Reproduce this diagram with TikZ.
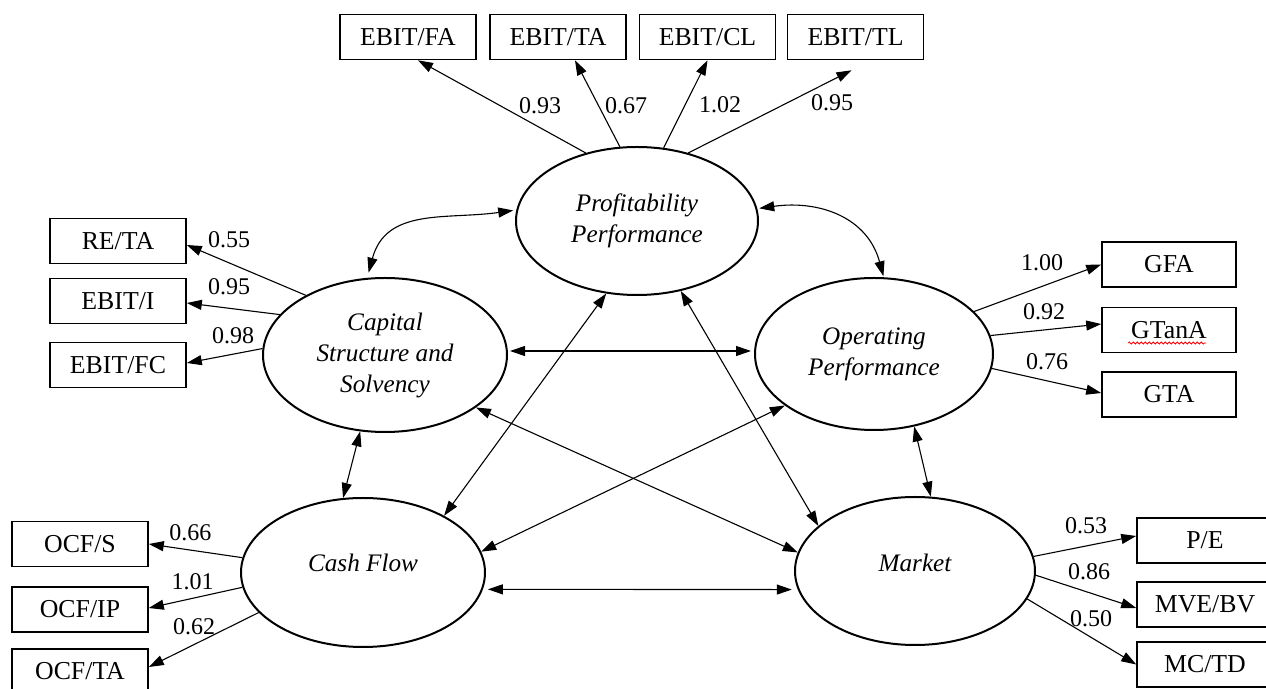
\documentclass[tikz,border=0pt]{standalone}
\usepackage{fontspec}
\setmainfont{Liberation Serif}
\usetikzlibrary{arrows.meta,shapes.geometric,decorations.pathmorphing,calc}
\begin{document}
\begin{tikzpicture}[x=0.5pt,y=-0.5pt,
  box/.style={draw,line width=0.8pt,minimum width=68pt,minimum height=22.5pt,inner sep=0pt,font=\fontsize{12.9}{15}\selectfont},
  lat/.style={draw,ellipse,line width=1pt,inner sep=0pt,align=center,font=\fontsize{12.6}{15.5}\selectfont\itshape},
  lattext/.style={inner sep=0pt,font=\fontsize{12.6}{15.5}\selectfont\itshape},
  load/.style={-{Triangle[length=7.5pt,width=5pt]},line width=0.55pt},
  cor/.style={{Triangle[length=7.5pt,width=5pt]}-{Triangle[length=7.5pt,width=5pt]},line width=0.55pt},
  num/.style={font=\fontsize{12}{14}\selectfont,inner sep=0pt}]
\fill[white] (0,0) rectangle (1266,689);
\useasboundingbox (0,0) rectangle (1266,689);
\clip (0,0) rectangle (1266,689);

% latent variables
\node[lat,minimum width=121pt,minimum height=74pt] (pp) at (637,221) {Profitability\\Performance};
\node[lat,minimum width=122pt,minimum height=77pt] (cap) at (385,355) {Capital\\Structure and\\Solvency};
\node[lat,minimum width=119pt,minimum height=76pt] (op) at (874,354) {Operating\\Performance};
\node[lat,minimum width=122pt,minimum height=74.5pt] (cf) at (363,572.5) {};
\node[lattext] (cft) at (363,563) {Cash Flow};
\node[lat,minimum width=120pt,minimum height=74pt] (mk) at (915,571) {};
\node[lattext] (mkt) at (915,563) {Market};

% indicators
\node[box] (fa) at (408,37) {EBIT/FA};
\node[box] (ta) at (558,37) {EBIT/TA};
\node[box] (cl) at (707.5,37) {EBIT/CL};
\node[box] (tl) at (855.5,37) {EBIT/TL};
\node[box] (reta) at (118,241) {RE/TA};
\node[box] (ei) at (118,301) {EBIT/I};
\node[box] (efc) at (118,365) {EBIT/FC};
\node[box,minimum width=67pt] (gfa) at (1169,264.5) {GFA};
\node[box,minimum width=67pt] (gtan) at (1169,330) {GTanA};
\node[box,minimum width=67pt] (gta) at (1169,394.5) {GTA};
\node[box] (ocfs) at (80,544) {OCF/S};
\node[box] (ocfip) at (80,609.5) {OCF/IP};
\node[box] (ocfta) at (80,671.5) {OCF/TA};
\node[box] (pe) at (1205,540.5) {P/E};
\node[box] (mve) at (1205,604.5) {MVE/BV};
\node[box] (mctd) at (1205,664.5) {MC/TD};

\draw[red,line width=0.4pt,decorate,decoration={snake,amplitude=0.5pt,segment length=2pt}]
  ([xshift=-20.5pt,yshift=-6.5pt]gtan.center) -- ([xshift=18.5pt,yshift=-6.5pt]gtan.center);

% loadings
\draw[load] (pp.127) -- ([xshift=5pt]fa.south);
\draw[load] (pp.103) -- ([xshift=8.5pt]ta.south);
\draw[load] (pp.70) -- (cl.south);
\draw[load] (pp.53) -- ([xshift=-2pt,yshift=-5pt]tl.south);
\draw[load] (cap.143) -- ([yshift=-2pt]reta.east);
\draw[load] (cap.159) -- ([yshift=-1pt]ei.east);
\draw[load] (cap.177) -- ([yshift=1pt]efc.east);
\draw[load] (op.23) -- (gfa.west);
\draw[load] (op.9) -- ([yshift=3pt]gtan.west);
\draw[load] (op.-7) -- ([yshift=0.75pt]gta.west);
\draw[load] (cf.173) -- (ocfs.east);
\draw[load] (cf.187) -- ([yshift=0.75pt]ocfip.east);
\draw[load] (cf.201) -- ([yshift=2.25pt]ocfta.east);
\draw[load] (mk.7) -- ([yshift=2.25pt]pe.west);
\draw[load] (mk.-2) -- ([yshift=-1.75pt]mve.west);
\draw[load] (mk.-14.5) -- (mctd.west);

% loading values
\node[num] (v1) at (540,106) {0.93};
\node[num] (v2) at (626,106) {0.67};
\node[num] (v3) at (720,105) {1.02};
\node[num] (v4) at (832,103) {0.95};
\node[num] (v5) at (229,240) {0.55};
\node[num] (v6) at (229,287) {0.95};
\node[num] (v7) at (233,336) {0.98};
\node[num] (v8) at (1042,263) {1.00};
\node[num] (v9) at (1044,312) {0.92};
\node[num] (v10) at (1047,362) {0.76};
\node[num] (v11) at (190.5,533) {0.66};
\node[num] (v12) at (192.5,582) {1.01};
\node[num] (v13) at (194,627) {0.62};
\node[num] (v14) at (1086,526) {0.53};
\node[num] (v15) at (1089,572) {0.86};
\node[num] (v16) at (1091,619) {0.50};

% correlations
\draw[cor] ([yshift=2.5pt]cap.102) to[out=75,in=188,looseness=1.1] ([xshift=-1.5pt]pp.175);
\draw[cor] ([xshift=1pt]pp.6) to[out=8,in=105,looseness=1.1] ([yshift=0.5pt]op.83);
\draw[cor] ([xshift=1pt,yshift=2pt]cap.east) -- ([xshift=-1.5pt,yshift=1.5pt]op.west);
\draw[cor] (cap.252) -- (cf.105);
\draw[cor] (op.-61.5) -- (mk.78.5);
\draw[cor] ([xshift=2.5pt]cf.-8.4) -- ([xshift=-3pt]mk.189.3);
\draw[cor] (pp.247) -- (cf.35);
\draw[cor] (pp.-58) -- (mk.155);
\draw[cor] (cap.-30.6) -- (mk.171.4);
\draw[cor] (op.210) -- (cf.10.3);
\end{tikzpicture}
\end{document}
